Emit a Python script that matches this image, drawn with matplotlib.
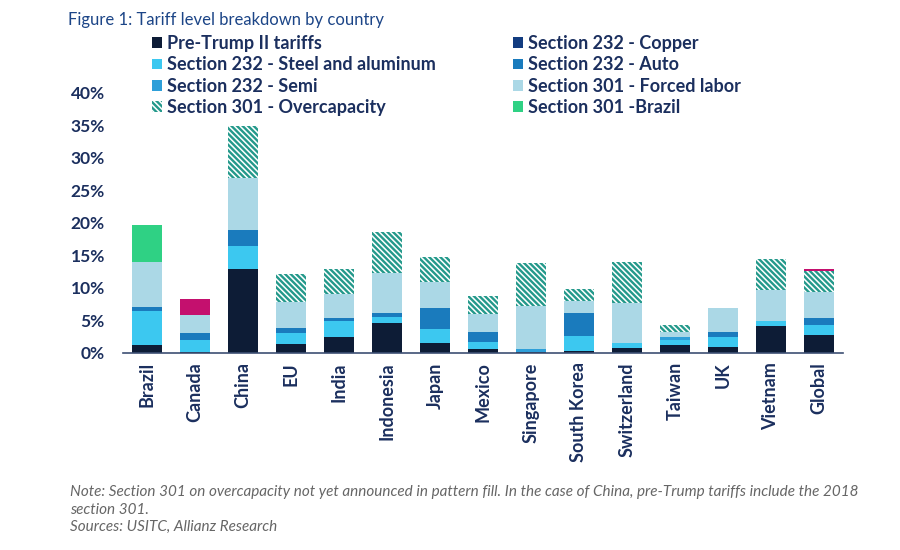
import numpy as np
import matplotlib
matplotlib.use("Agg")
import matplotlib.pyplot as plt
from matplotlib.patches import Patch

# data (in %)
countries = ["Brazil", "Canada", "China", "EU", "India", "Indonesia", "Japan", "Mexico",
             "Singapore", "South Korea", "Switzerland", "Taiwan", "UK", "Vietnam", "Global"]
pre_trump = [1.2, 0.1, 12.9, 1.3, 2.4, 4.6, 1.5, 0.5, 0.05, 0.3, 0.7, 1.2, 0.8, 4.05, 2.7]
copper = [0, 0, 0, 0, 0, 0, 0, 0, 0, 0, 0, 0, 0, 0, 0]
steel_alu = [5.2, 1.8, 3.5, 1.65, 2.5, 0.9, 2.1, 1.15, 0.0, 2.25, 0.8, 0.7, 1.55, 0.8, 1.55]
semi = [0, 0, 0, 0, 0, 0, 0, 0, 0.55, 0, 0, 0.45, 0, 0, 0]
auto = [0.6, 1.1, 2.5, 0.75, 0.35, 0.6, 3.3, 1.45, 0, 3.6, 0, 0, 0.85, 0, 1.1]
forced_labor = [7.0, 2.7, 8.0, 4.1, 3.75, 6.2, 3.9, 2.8, 6.55, 1.85, 6.05, 0.85, 3.7, 4.75, 3.9]
overcapacity = [0, 0, 7.9, 4.3, 3.8, 6.25, 3.9, 2.8, 6.65, 1.8, 6.4, 1.0, 0, 4.75, 3.25]
brazil_301 = [5.7, 0, 0, 0, 0, 0, 0, 0, 0, 0, 0, 0, 0, 0, 0]
other = [0, 2.5, 0, 0, 0, 0, 0, 0, 0, 0, 0, 0, 0, 0, 0.3]
yticks = [0, 5, 10, 15, 20, 25, 30, 35, 40]

navy = "#1b2f5e"
teal = "#24998b"
plt.rcParams["hatch.linewidth"] = 1.7

fig = plt.figure(figsize=(9, 5.5), dpi=100)
ax = fig.add_axes([123 / 900, 1 - 352.5 / 550, 720 / 900, (352.5 - 92.7) / 550])

x = np.arange(len(countries))
w = 0.625
series = [
    (pre_trump, "#0d1c36"),
    (copper, "#123c80"),
    (steel_alu, "#3cc8f0"),
    (semi, "#2e9fd9"),
    (auto, "#1a7bbd"),
    (forced_labor, "#abd8e6"),
]
bottom = np.zeros(len(countries))
for vals, col in series:
    ax.bar(x, vals, w, bottom=bottom, color=col, linewidth=0)
    bottom += np.array(vals)
ax.bar(x, overcapacity, w, bottom=bottom, facecolor="white", edgecolor=teal,
       hatch="\\" * 6, linewidth=0)
bottom += np.array(overcapacity)
ax.bar(x, brazil_301, w, bottom=bottom, color="#2fd184", linewidth=0)
bottom += np.array(brazil_301)
ax.bar(x, other, w, bottom=bottom, color="#c4106e", linewidth=0)

ax.set_xlim(-0.5, len(countries) - 0.5)
ax.set_ylim(0, 40)
ax.set_yticks(yticks)
ax.set_yticklabels([f"{t}%" for t in yticks])
ax.set_xticks(x)
ax.set_xticklabels(countries, rotation=90)
for s in ["top", "right", "left"]:
    ax.spines[s].set_visible(False)
ax.spines["bottom"].set_color("#3d4f73")
ax.spines["bottom"].set_linewidth(1.2)
ax.tick_params(axis="y", length=0, pad=13, labelcolor=navy)
ax.tick_params(axis="x", length=0, pad=7, labelcolor=navy)
for lbl in ax.get_yticklabels():
    lbl.set_fontfamily(["Lato", "DejaVu Sans"])
    lbl.set_fontweight("bold")
    lbl.set_fontsize(12.5)
for lbl in ax.get_xticklabels():
    lbl.set_fontfamily(["Lato", "DejaVu Sans"])
    lbl.set_fontweight("bold")
    lbl.set_fontsize(13)

# legend in two columns
def square(col):
    return Patch(facecolor=col, edgecolor="none")

col1 = [square("#0d1c36"), square("#3cc8f0"), square("#2e9fd9"),
        Patch(facecolor="white", edgecolor=teal, hatch="\\" * 6, linewidth=0)]
lab1 = ["Pre-Trump II tariffs", "Section 232 - Steel and aluminum", "Section 232 - Semi",
        "Section 301 - Overcapacity"]
col2 = [square("#123c80"), square("#1a7bbd"), square("#abd8e6"), square("#2fd184")]
lab2 = ["Section 232 - Copper", "Section 232 - Auto", "Section 301 - Forced labor",
        "Section 301 -Brazil"]
legend_font = {"family": ["Lato", "DejaVu Sans"], "weight": "bold", "size": 13}
for handles, labels, xpos in [(col1, lab1, 152), (col2, lab2, 513)]:
    leg = fig.legend(handles, labels, loc="upper left", bbox_to_anchor=(xpos / 900, 1 - 35 / 550),
                     frameon=False, prop=legend_font, handlelength=0.55, handleheight=0.55,
                     handletextpad=0.3, labelspacing=0.24, borderpad=0, borderaxespad=0)
    for t in leg.get_texts():
        t.set_color(navy)

fig.text(68 / 900, 1 - 20 / 550, "Figure 1: Tariff level breakdown by country", fontsize=12,
         family=["Lato", "DejaVu Sans"], color="#1c4587", va="center", ha="left")

note_font = dict(fontsize=11, family=["Lato", "DejaVu Sans"], style="italic", color="#666666",
                 va="center", ha="left")
fig.text(70 / 900, 1 - 492 / 550, "Note: Section 301 on overcapacity not yet announced in pattern fill. "
         "In the case of China, pre-Trump tariffs include the 2018", **note_font)
fig.text(70 / 900, 1 - 510 / 550, "section 301.", **note_font)
fig.text(70 / 900, 1 - 527 / 550, "Sources: USITC, Allianz Research", **note_font)

fig.savefig("out.png", dpi=100)
